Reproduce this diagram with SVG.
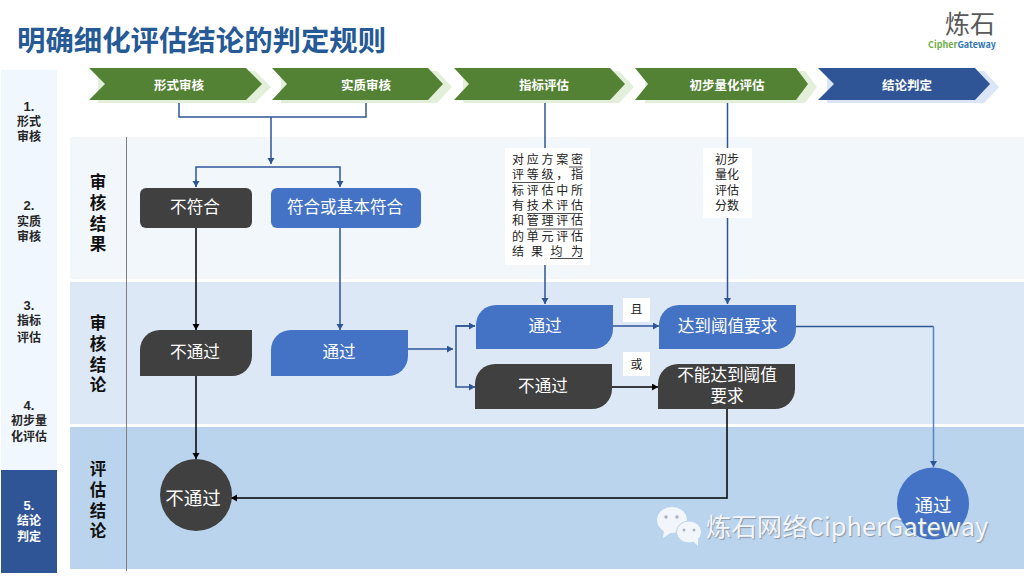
<svg xmlns="http://www.w3.org/2000/svg" width="1024" height="576" viewBox="0 0 1024 576">
<style>
text{font-family:"Noto Sans CJK SC","Noto Sans",sans-serif}
.side{font-size:12px;font-weight:700;text-anchor:middle;fill:#262626}
.sidew{fill:#fff}
.num{font-family:"Liberation Sans",sans-serif;font-size:13px;font-weight:700}
.step{font-size:12.5px;font-weight:700;fill:#fff;text-anchor:middle}
.lane{font-size:16.5px;font-weight:700;text-anchor:middle;fill:#111}
.n{font-size:16.6px;fill:#fff;text-anchor:middle}
.c{font-size:18.5px;fill:#fff;text-anchor:middle}
.box{font-size:12px;fill:#222}
.bm{font-size:12px;fill:#222;text-anchor:middle}
.blue{fill:none;stroke:#2f5597;stroke-width:1.5}
.blk{fill:none;stroke:#000;stroke-width:1.5}
.ul{stroke:#222;stroke-width:.8}
.wm{font-size:25.4px;fill:#f2f6fb;text-shadow:1px 1px 1px #8a97a5}
</style>
<defs>
<marker id="ab" markerUnits="userSpaceOnUse" markerWidth="8" markerHeight="8" refX="6" refY="3.5" orient="auto"><path d="M0 0L6 3.5L0 7Z" fill="#2f5597"/></marker>
<marker id="ak" markerUnits="userSpaceOnUse" markerWidth="8" markerHeight="8" refX="6" refY="3.5" orient="auto"><path d="M0 0L6 3.5L0 7Z" fill="#000"/></marker>
</defs>
<rect width="1024" height="576" fill="#fff"/>
<g id="bands">
<rect x="70" y="137" width="954" height="142" fill="#f2f7fc"/>
<rect x="70" y="282" width="954" height="142" fill="#dce8f5"/>
<rect x="70" y="427" width="954" height="142" fill="#bad4ed"/>
<line x1="126.5" y1="137" x2="126.5" y2="571" stroke="#7f7f7f" stroke-width="1"/>
</g>
<g id="title"><text x="17" y="51" font-size="28.4" font-weight="700" fill="#255a96">明确细化评估结论的判定规则</text></g>
<g id="logo">
<text x="945" y="33" font-size="25" fill="#595959">炼石</text>
<text x="928" y="48" font-size="9" font-weight="700" font-family="Liberation Sans" fill="#70ad47" textLength="68">Cipher<tspan fill="#2f75b5">Gateway</tspan></text>
</g>
<g id="side-1"><rect x="1" y="70" width="56" height="100" fill="#f0f7fe"/><text class="side num" x="29" y="111">1.</text><text class="side" x="29" y="126">形式</text><text class="side" x="29" y="141">审核</text></g>
<g id="side-2"><rect x="1" y="170" width="56" height="100" fill="#f0f7fe"/><text class="side num" x="29" y="210">2.</text><text class="side" x="29" y="226">实质</text><text class="side" x="29" y="241">审核</text></g>
<g id="side-3"><rect x="1" y="270" width="56" height="100" fill="#f0f7fe"/><text class="side num" x="29" y="310">3.</text><text class="side" x="29" y="325">指标</text><text class="side" x="29" y="342">评估</text></g>
<g id="side-4"><rect x="1" y="370" width="56" height="100" fill="#f0f7fe"/><text class="side num" x="29" y="410">4.</text><text class="side" x="29" y="425">初步量</text><text class="side" x="29" y="441">化评估</text></g>
<g id="side-5"><rect x="1" y="470" width="56" height="103" fill="#2f5597"/><text class="side num sidew" x="29" y="510">5.</text><text class="side sidew" x="29" y="525">结论</text><text class="side sidew" x="29" y="541">判定</text></g>

<g id="step-1"><path d="M98 71H255L271 87L255 103H98Z" fill="#e2efd9"/><path d="M89 68H246L262 84L246 100H89L105 84Z" fill="#548235"/><text class="step" x="179" y="90">形式审核</text></g>
<g id="step-2"><path d="M281 71H437L452 87L437 103H281Z" fill="#e2efd9"/><path d="M272 68H428L443 84L428 100H272L287 84Z" fill="#548235"/><text class="step" x="366" y="90">实质审核</text></g>
<g id="step-3"><path d="M463 71H619L634 87L619 103H463Z" fill="#e2efd9"/><path d="M454 68H610L625 84L610 100H454L469 84Z" fill="#548235"/><text class="step" x="544" y="90">指标评估</text></g>
<g id="step-4"><path d="M645 71H805L817 87L805 103H645Z" fill="#e2efd9"/><path d="M635 68H796L808 84L796 100H635L648 84Z" fill="#548235"/><text class="step" x="727" y="90">初步量化评估</text></g>
<g id="step-5"><path d="M827 71H984L999 87L984 103H827Z" fill="#dae6f7"/><path d="M818 68H975L990 84L975 100H818L834 84Z" fill="#2f5597"/><text class="step" x="907" y="90">结论判定</text></g>

<g id="lane-1"><text class="lane" x="98" y="188">审</text><text class="lane" x="98" y="209">核</text><text class="lane" x="98" y="230">结</text><text class="lane" x="98" y="250">果</text></g>
<g id="lane-2"><text class="lane" x="98" y="329">审</text><text class="lane" x="98" y="350">核</text><text class="lane" x="98" y="371">结</text><text class="lane" x="98" y="391">论</text></g>
<g id="lane-3"><text class="lane" x="98" y="475">评</text><text class="lane" x="98" y="496">估</text><text class="lane" x="98" y="517">结</text><text class="lane" x="98" y="537">论</text></g>

<g id="connectors">
<path class="blue" d="M179 103V117H366V103"/>
<path class="blue" d="M271 117V164" marker-end="url(#ab)"/>
<path class="blue" d="M196 187V167H340V187" marker-end="url(#ab)"/>
<path d="M196 180V187" class="blue" marker-end="url(#ab)"/>
<path class="blk" d="M196 228V330" marker-end="url(#ak)"/>
<path class="blue" d="M340 228V330" marker-end="url(#ab)"/>
<path class="blk" d="M196 376V459" marker-end="url(#ak)"/>
<path class="blue" d="M408 349H453" marker-end="url(#ab)"/>
<path class="blue" d="M475 326H456V387H475" marker-end="url(#ab)"/>
<path class="blue" d="M456 326H475" marker-end="url(#ab)"/>
<path class="blue" d="M545 103V304" marker-end="url(#ab)"/>
<path class="blue" d="M727.5 103V304" marker-end="url(#ab)"/>
<path class="blue" d="M613 326H659" marker-end="url(#ab)"/>
<path class="blk" d="M612 387H658" marker-end="url(#ak)"/>
<path class="blue" d="M796 326.500H933.500"/>
<path class="blue" style="stroke:#5a83c5" d="M933.500 326.500V467" marker-end="url(#ab)"/>
<path class="blk" d="M727 409V498H231" marker-end="url(#ak)"/>
</g>

<g id="n-bufuhe"><rect x="140" y="188" width="112" height="40" rx="6" fill="#404040"/><text class="n" x="195" y="213">不符合</text></g>
<g id="n-fuhe"><rect x="271" y="188" width="150" height="40" rx="6" fill="#4472c4"/><text class="n" x="345" y="213">符合或基本符合</text></g>
<g id="n-fail1"><path d="M160 330H252V356A20 20 0 0 1 232 376H140V350A20 20 0 0 1 160 330Z" fill="#404040"/><text class="n" x="195" y="358">不通过</text></g>
<g id="n-pass1"><path d="M291 330H408V356A20 20 0 0 1 388 376H271V350A20 20 0 0 1 291 330Z" fill="#4472c4"/><text class="n" x="339" y="358">通过</text></g>
<g id="n-pass2"><path d="M496 305H613V329A20 20 0 0 1 593 349H476V325A20 20 0 0 1 496 305Z" fill="#4472c4"/><text class="n" x="545" y="332">通过</text></g>
<g id="n-fail2"><path d="M495 364H612V389A20 20 0 0 1 592 409H475V384A20 20 0 0 1 495 364Z" fill="#404040"/><text class="n" x="543" y="392">不通过</text></g>
<g id="n-reach"><path d="M679 305H796V329A20 20 0 0 1 776 349H659V325A20 20 0 0 1 679 305Z" fill="#4472c4"/><text class="n" x="727.500" y="332">达到阈值要求</text></g>
<g id="n-noreach"><path d="M678 364H795V389A20 20 0 0 1 775 409H658V384A20 20 0 0 1 678 364Z" fill="#404040"/><text class="n" x="727" y="381">不能达到阈值</text><text class="n" x="727" y="402">要求</text></g>
<g id="n-end-fail"><circle cx="196" cy="495" r="36" fill="#404040"/><text class="c" x="193" y="505">不通过</text></g>
<g id="n-end-pass"><circle cx="933" cy="503.500" r="36" fill="#4472c4"/><text class="c" x="933" y="512">通过</text></g>

<g id="label-box1"><rect x="505" y="148" width="85" height="117" fill="#fff"/>
<text class="box" x="512" y="164" textLength="71">对应方案密</text>
<text class="box" x="512" y="179" textLength="71">评等级，指</text>
<text class="box" x="512" y="195" textLength="71">标评估中所</text>
<text class="box" x="512" y="210" textLength="71">有技术评估</text>
<text class="box" x="512" y="225" textLength="71">和管理评估</text>
<text class="box" x="512" y="241" textLength="71">的单元评估</text>
<text class="box" x="512 531 550.500 571" y="256">结果均为</text>
<path class="ul" d="M569 167H583M512 182.500H555M527 213.500H583M527 229H583M550 258.500H583"/>
</g>
<g id="label-box2"><rect x="703" y="148" width="49" height="70" fill="#fff"/>
<text class="bm" x="727" y="164">初步</text><text class="bm" x="727" y="179">量化</text><text class="bm" x="727" y="195">评估</text><text class="bm" x="727" y="210">分数</text></g>
<g id="label-and"><rect x="623" y="298" width="27" height="24" fill="#fff"/><text class="bm" x="636.500" y="314">且</text></g>
<g id="label-or"><rect x="623" y="352" width="27" height="24" fill="#fff"/><text class="bm" x="636.500" y="369">或</text></g>

<g id="watermark">
<ellipse cx="672" cy="520" rx="15" ry="13" fill="#f2f6fb"/><path d="M664 530L663 538L672 532Z" fill="#f2f6fb"/>
<ellipse cx="689" cy="532" rx="12.500" ry="11" fill="#f2f6fb" stroke="#bad4ed"/><path d="M693 541L698 546L698 538Z" fill="#f2f6fb"/>
<circle cx="666" cy="517" r="1.800" fill="#a9b4bf"/><circle cx="677" cy="517" r="1.800" fill="#a9b4bf"/><circle cx="684" cy="530" r="1.500" fill="#a9b4bf"/><circle cx="694" cy="530" r="1.500" fill="#a9b4bf"/>
<text class="wm" x="706" y="536">炼石网络CipherGateway</text>
</g>
</svg>
